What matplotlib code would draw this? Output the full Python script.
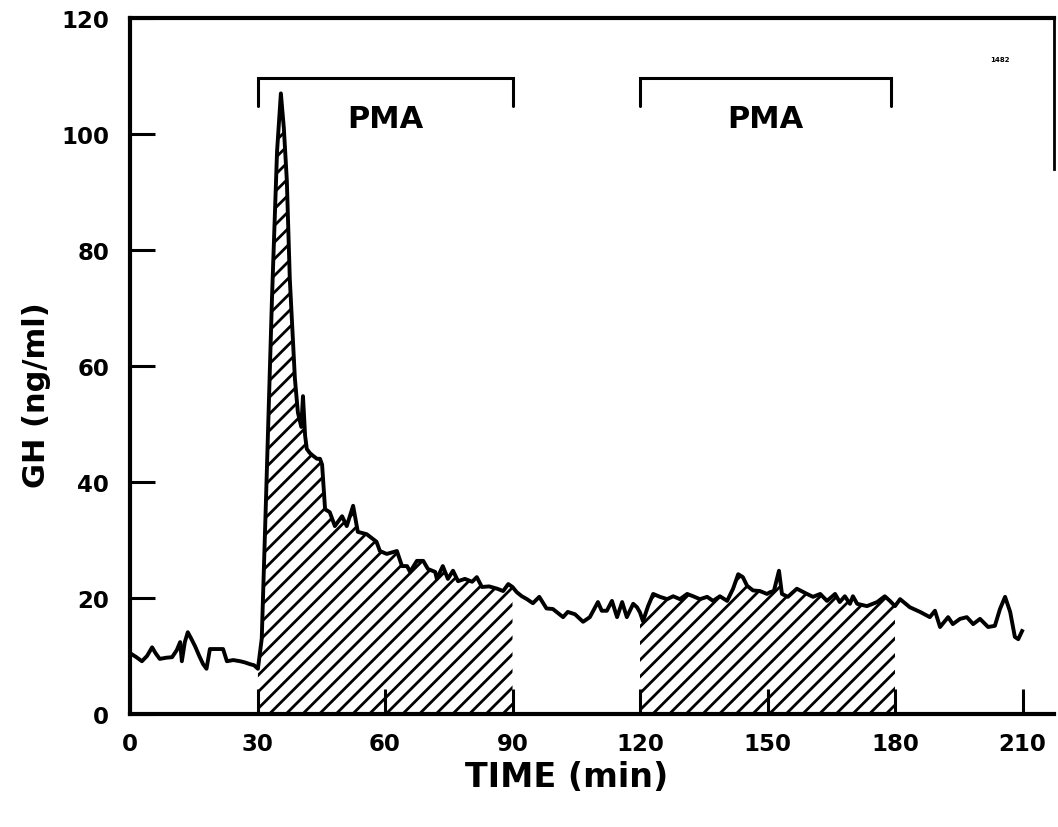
import matplotlib
matplotlib.use("Agg")
import matplotlib.pyplot as plt
import numpy as np

# ---- data ----
time_min = [0, 1.5, 2.8, 4, 5.2, 6, 7, 8.5, 9.9, 11, 11.8, 12.2, 12.9, 13.6, 14.4, 15.3,
            16.3, 17.2, 18, 18.8, 20.3, 21.9, 22.8, 24.3, 25.9, 27, 28.2, 29.2, 30.1,
            31, 32, 33.4, 34.6, 35.5, 36.2, 36.9, 37.6, 38.8, 39.5, 40.3, 40.7, 41.2, 41.6,
            42.3, 43.1, 44, 44.7, 45.2, 45.9, 47, 48.2, 49.9, 51, 52.5, 53.6, 55.7, 58,
            58.8, 60.4, 62.8, 64, 65.2, 65.9, 67.5, 69, 70.1, 71.8, 72.2, 73.6, 74.8, 76,
            77.2, 78.8, 80.5, 81.6, 82.8, 84.5, 86.4, 87.8, 89, 90, 91, 92.2, 93.4, 94.8,
            96.3, 98, 99.5, 101.9, 103, 104.7, 106.6, 108.2, 110.1, 111, 112.2, 113.4,
            114.6, 115.8, 116.9, 118.4, 119.3, 120, 120.7, 121.9, 123.1, 124.7, 126.4,
            127.8, 129.4, 131.1, 132.5, 134.1, 135.8, 137.2, 138.8, 140.5, 141.9, 143.1,
            144.2, 145.2, 146.6, 148.2, 149.9, 150.6, 151.5, 152.7, 153.4, 154.8, 156.9,
            159.3, 160.7, 162.4, 164, 165.9, 167, 168.2, 169.4, 170.1, 171.1, 173.4, 175.8,
            177.6, 178.8, 180, 181.2, 183.5, 185.9, 188.2, 189.4, 190.6, 192.5, 193.6,
            195.3, 196.9, 198.4, 200, 201.9, 203.5, 204.7, 205.9, 207.1, 208.2, 209, 209.9]
gh_ng_ml = [10.5, 9.8, 9.1, 10, 11.5, 10.5, 9.5, 9.7, 9.8, 11, 12.4, 9.1, 12.4, 14.1, 13, 11.7,
            10, 8.6, 7.8, 11.2, 11.2, 11.2, 9.1, 9.3, 9.1, 8.9, 8.6, 8.4, 7.8,
            13, 37, 71.5, 97, 107, 101, 92, 75, 57.8, 52, 49.5, 54.8, 48, 45.7,
            45, 44.5, 44, 44, 43, 35.3, 34.8, 32.4, 34.1, 32.4, 35.9, 31.4, 31, 29.7,
            28.1, 27.6, 28.1, 25.5, 25.5, 24.5, 26.4, 26.4, 25, 24.5, 23.3, 25.5, 23.3, 24.7,
            22.9, 23.3, 22.8, 23.6, 21.9, 22, 21.6, 21.2, 22.4, 21.9, 21, 20.3, 19.8, 19.1,
            20.2, 18.2, 18.1, 16.7, 17.6, 17.2, 15.9, 16.7, 19.3, 17.8, 17.8, 19.5,
            16.7, 19.3, 16.7, 19, 18.4, 17.5, 16, 18.6, 20.7, 20.2, 19.8,
            20.3, 19.8, 20.7, 20.3, 19.8, 20.2, 19.5, 20.3, 19.5, 21.6, 24.1,
            23.6, 22.1, 21.3, 21.2, 20.7, 21, 21.2, 24.7, 20.7, 20.2, 21.6,
            20.7, 20.2, 20.7, 19.5, 20.7, 19.3, 20.3, 19, 20.3, 19, 18.6, 19.3,
            20.3, 19.5, 18.6, 19.8, 18.4, 17.6, 16.7, 17.8, 15, 16.7, 15.5,
            16.4, 16.7, 15.5, 16.4, 15, 15.2, 18.1, 20.2, 17.6, 13.3, 12.9, 14.3]

pma_brackets = [(30, 90), (120, 179)]
pma_fill = [(30, 90), (120, 180)]
pma_labels = ["PMA", "PMA"]
x_ticks = [0, 30, 60, 90, 120, 150, 180, 210]
y_ticks = [0, 20, 40, 60, 80, 100, 120]

# ---- figure ----
plt.rcParams['font.family'] = ['DejaVu Sans']
plt.rcParams['font.weight'] = 'bold'
plt.rcParams['hatch.linewidth'] = 2.0
plt.rcParams['hatch.color'] = 'black'

fig = plt.figure(figsize=(10.58, 8.28), dpi=100)
ax = fig.add_axes([130 / 1058, 113 / 828, 924 / 1058, 696 / 828])

t = np.array(time_min)
g = np.array(gh_ng_ml)

mask = np.zeros_like(t, dtype=bool)
for a, b in pma_fill:
    mask |= (t >= a) & (t <= b)
ax.fill_between(t, g, 0, where=mask, facecolor='none', edgecolor='black',
                hatch='//', linewidth=0)
ax.plot(t, g, color='black', lw=2.8, solid_joinstyle='round')

for (a, b), lab in zip(pma_brackets, pma_labels):
    ax.plot([a, a, b, b], [104.8, 109.6, 109.6, 104.8], color='black', lw=2.2,
            solid_capstyle='round', solid_joinstyle='miter')
    ax.text((a + b) / 2, 102.6, lab, ha='center', va='center', fontsize=22,
            fontweight='bold')

ax.text(204.7, 113, "1482", ha='center', va='center', fontsize=5, fontweight='bold')

ax.set_xlim(0, 924 / 4.25)
ax.set_ylim(0, 120)
ax.set_xticks(x_ticks)
ax.set_yticks(y_ticks)
ax.set_xticklabels([str(v) for v in x_ticks], fontsize=16.5, fontweight='bold')
ax.set_yticklabels([str(v) for v in y_ticks], fontsize=16.5, fontweight='bold')
ax.tick_params(axis='both', direction='in', length=18, width=2.2)
ax.tick_params(axis='x', pad=13)
ax.tick_params(axis='y', pad=15)

for side in ['left', 'bottom', 'top', 'right']:
    ax.spines[side].set_linewidth(3)
ax.spines['right'].set_linewidth(2)
ax.spines['right'].set_bounds(94, 120)

ax.set_xlabel("TIME (min)", fontsize=24, fontweight='bold')
ax.xaxis.set_label_coords((567 - 130) / 924, -(778 - 715) / 696)
ax.set_ylabel("GH (ng/ml)", fontsize=22, fontweight='bold')
ax.yaxis.set_label_coords((37 - 130) / 924, (715 - 395) / 696)
ax.xaxis.label.set_va('center')
ax.yaxis.label.set_va('center')

fig.savefig("out.png", dpi=100)
